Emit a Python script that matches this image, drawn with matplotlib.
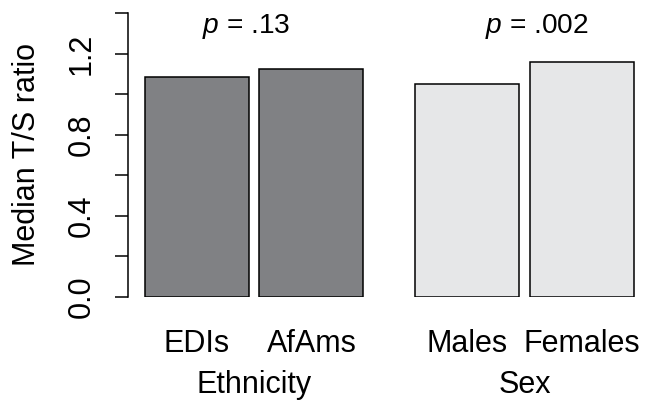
import matplotlib
matplotlib.use('Agg')
import matplotlib.pyplot as plt
import numpy as np

plt.rcParams['font.family'] = ['Liberation Sans', 'DejaVu Sans']
plt.rcParams['mathtext.fontset'] = 'custom'
plt.rcParams['mathtext.rm'] = 'Liberation Sans'
plt.rcParams['mathtext.it'] = 'Liberation Sans:italic'

# data
categories = ['EDIs', 'AfAms', 'Males', 'Females']
medians = [1.086, 1.123, 1.050, 1.157]
groups = ['Ethnicity', 'Sex']
p_labels = ['$p$ = .13', '$p$ = .002']
bar_colors = ['#808184', '#808184', '#e6e7e8', '#e6e7e8']
yticks = [0.0, 0.2, 0.4, 0.6, 0.8, 1.0, 1.2, 1.4]
ytick_labels = ['0.0', '', '0.4', '', '0.8', '', '1.2', '']

# layout: bar width 1, space 0.1 within a group, 0.5 between groups
pos = np.array([0.0, 1.1, 2.6, 3.7])
group_centers = [(pos[0] + pos[1]) / 2, (pos[2] + pos[3]) / 2]

fs = 22
fig = plt.figure(figsize=(6.51, 4.07), dpi=100)
ax = fig.add_axes([128 / 651, (407 - 296.7) / 407, 523 / 651, 283.7 / 407])

ax.bar(pos, medians, width=1.0, color=bar_colors, edgecolor='black', linewidth=1.1)

ax.set_xlim(-69 / 104, 454 / 104)
ax.set_ylim(0, 1.4)
for s in ['top', 'right', 'bottom']:
    ax.spines[s].set_visible(False)
ax.spines['left'].set_linewidth(1.1)

ax.set_yticks(yticks)
ax.set_yticklabels(ytick_labels, rotation=90, va='center', fontsize=fs)
ax.tick_params(axis='y', length=9.5, width=1.1, pad=13)

ax.set_xticks(pos)
ax.set_xticklabels(categories, fontsize=fs)
ax.tick_params(axis='x', length=0, pad=23)

tr = ax.get_xaxis_transform()
for xc, g in zip(group_centers, groups):
    ax.text(xc, -0.34, g, transform=tr, ha='center', va='baseline', fontsize=fs)
for xc, p, dx in zip(group_centers, p_labels, [-0.08, 0.12]):
    ax.text(xc + dx, 0.951, p, transform=tr, ha='center', va='center', fontsize=fs * 0.92)

ax.set_ylabel('Median T/S ratio', fontsize=fs)
ax.yaxis.set_label_coords(-0.165, 0.5)

fig.savefig('out.png', dpi=100)
